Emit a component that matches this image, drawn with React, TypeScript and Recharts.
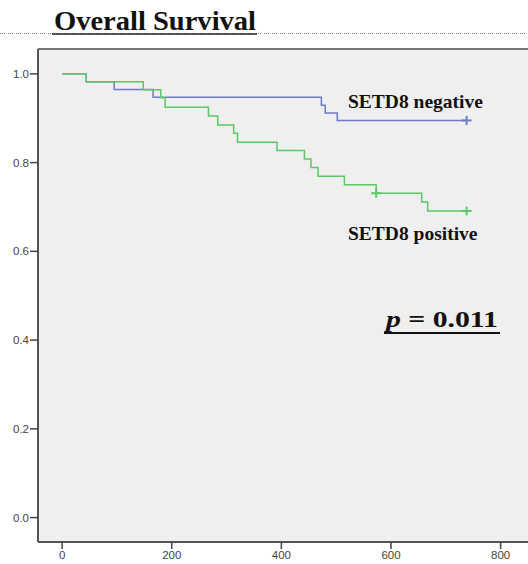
import { ComposedChart, Line, Scatter, XAxis, YAxis, CartesianGrid, ReferenceLine } from "recharts";

// Kaplan-Meier steps (days, cumulative survival)
const negativeSteps = [
  { t: 0, s: 1.0 },
  { t: 44, s: 0.982 },
  { t: 95, s: 0.965 },
  { t: 166, s: 0.947 },
  { t: 473, s: 0.929 },
  { t: 480, s: 0.912 },
  { t: 502, s: 0.895 },
  { t: 738, s: 0.895 },
];

const positiveSteps = [
  { t: 0, s: 1.0 },
  { t: 44, s: 0.982 },
  { t: 148, s: 0.964 },
  { t: 180, s: 0.946 },
  { t: 188, s: 0.925 },
  { t: 267, s: 0.905 },
  { t: 284, s: 0.885 },
  { t: 313, s: 0.866 },
  { t: 320, s: 0.846 },
  { t: 392, s: 0.827 },
  { t: 442, s: 0.808 },
  { t: 454, s: 0.789 },
  { t: 467, s: 0.769 },
  { t: 515, s: 0.75 },
  { t: 573, s: 0.731 },
  { t: 656, s: 0.711 },
  { t: 667, s: 0.691 },
  { t: 738, s: 0.691 },
];

const negativeCensored = [{ t: 738, s: 0.895 }];
const positiveCensored = [
  { t: 573, s: 0.731 },
  { t: 738, s: 0.691 },
];

const xTicks = [0, 200, 400, 600, 800];
const yTicks = [0, 0.2, 0.4, 0.6, 0.8, 1.0];

const BLUE = "#6d7cc6";
const GREEN = "#5cc766";

const plus = (color: string) => (props: any) => {
  const { cx, cy } = props;
  return (
    <g stroke={color} strokeWidth={2}>
      <line x1={cx - 5} y1={cy} x2={cx + 5} y2={cy} />
      <line x1={cx} y1={cy - 4.5} x2={cx} y2={cy + 4.5} />
    </g>
  );
};

const tickStyle = { fill: "#444", fontSize: 11.5, fontFamily: "Liberation Sans, Arial, sans-serif" };
const serif = "Liberation Serif, Times New Roman, serif";

export default function App() {
  return (
    <div style={{ position: "absolute", left: 0, top: 0, width: 528, height: 564, background: "#fff" }}>
      <ComposedChart width={528} height={564} margin={{ top: 49, right: 0, left: 0, bottom: 0 }}>
        <CartesianGrid fill="#efefef" horizontal={false} vertical={false} />
        <XAxis
          type="number"
          dataKey="t"
          domain={[-44, 850]}
          ticks={xTicks}
          allowDataOverflow
          height={22}
          tick={tickStyle}
          tickSize={7}
          tickMargin={2}
          tickLine={{ stroke: "#444", strokeWidth: 1.5 }}
          axisLine={{ stroke: "#555", strokeWidth: 2 }}
        />
        <YAxis
          type="number"
          dataKey="s"
          domain={[-0.055, 1.056]}
          ticks={yTicks}
          allowDataOverflow
          width={38}
          tickFormatter={(v: number) => v.toFixed(1)}
          tick={tickStyle}
          tickSize={8}
          tickMargin={1}
          tickLine={{ stroke: "#444", strokeWidth: 1.5 }}
          axisLine={{ stroke: "#555", strokeWidth: 2 }}
        />
        <ReferenceLine y={1.056} stroke="#777" strokeWidth={2} ifOverflow="visible" />
        <Line
          data={negativeSteps}
          dataKey="s"
          type="stepAfter"
          stroke={BLUE}
          strokeWidth={1.5}
          dot={false}
          isAnimationActive={false}
        />
        <Line
          data={positiveSteps}
          dataKey="s"
          type="stepAfter"
          stroke={GREEN}
          strokeWidth={1.5}
          dot={false}
          isAnimationActive={false}
        />
        <Scatter data={negativeCensored} dataKey="s" shape={plus(BLUE)} isAnimationActive={false} />
        <Scatter data={positiveCensored} dataKey="s" shape={plus(GREEN)} isAnimationActive={false} />
      </ComposedChart>
      <svg
        width={528}
        height={564}
        style={{ position: "absolute", left: 0, top: 0, pointerEvents: "none" }}
      >
        <line x1={0} y1={33.5} x2={528} y2={33.5} stroke="#777" strokeWidth={1} strokeDasharray="1 1 1 1 1 3" />
        <line x1={52} y1={34} x2={257} y2={34} stroke="#222" strokeWidth={1.5} />
        <text
          x={54}
          y={29.5}
          fontFamily={serif}
          fontWeight="bold"
          fontSize={27}
          textLength={202}
          lengthAdjust="spacingAndGlyphs"
          fill="#111"
        >
          Overall Survival
        </text>
        <text x={348} y={107.5} fontFamily={serif} fontWeight="bold" fontSize={19.5} fill="#111">
          SETD8 negative
        </text>
        <text x={348} y={240} fontFamily={serif} fontWeight="bold" fontSize={19.5} fill="#111">
          SETD8 positive
        </text>
        <text
          x={386}
          y={327}
          fontFamily={serif}
          fontWeight="bold"
          fontSize={24}
          textLength={112}
          lengthAdjust="spacingAndGlyphs"
          fill="#111"
        >
          <tspan fontStyle="italic">p</tspan> = 0.011
        </text>
        <line x1={384} y1={333} x2={500} y2={333} stroke="#111" strokeWidth={2} />
      </svg>
    </div>
  );
}
